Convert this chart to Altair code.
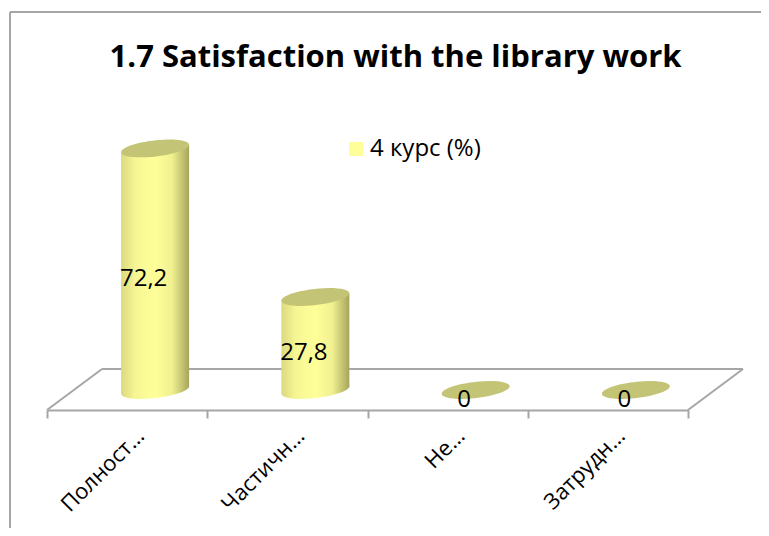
import altair as alt
import pandas as pd

categories = ["Полност…", "Частичн…", "Не…", "Затрудн…"]
values = [72.2, 27.8, 0, 0]
value_labels = ["72,2", "27,8", "0", "0"]
series_name = "4 курс (%)"
title_text = "1.7 Satisfaction with the library work"

FONT = "Open Sans"
GRAY = "#a6a6a6"
ELLIPSE = "M-1,0.1 A1,0.235 -6.5 1 1 1,-0.1 A1,0.235 -6.5 1 1 -1,0.1 Z"

df = pd.DataFrame({"cat": categories, "value": values, "label": value_labels, "series": series_name})

stops_left = [
    alt.GradientStop(color="#d9d97f", offset=0),
    alt.GradientStop(color="#f5f594", offset=0.4),
    alt.GradientStop(color="#ffff99", offset=1),
]
stops_right = [
    alt.GradientStop(color="#ffff99", offset=0),
    alt.GradientStop(color="#f0f090", offset=0.5),
    alt.GradientStop(color="#a5a55c", offset=1),
]
grad_left = alt.Gradient(gradient="linear", x1=0, x2=1, y1=0, y2=0, stops=stops_left)
grad_right = alt.Gradient(gradient="linear", x1=0, x2=1, y1=0, y2=0, stops=stops_right)
grad = alt.Gradient(gradient="linear", x1=0, x2=1, y1=0, y2=0,
                    stops=[
                        alt.GradientStop(color="#d9d97f", offset=0),
                        alt.GradientStop(color="#f5f594", offset=0.2),
                        alt.GradientStop(color="#ffff99", offset=0.5),
                        alt.GradientStop(color="#f0f090", offset=0.75),
                        alt.GradientStop(color="#a5a55c", offset=1),
                    ])

x = alt.X("cat:N", sort=categories, title=None,
          scale=alt.Scale(range=[37, 678], paddingInner=0, paddingOuter=0),
          axis=alt.Axis(domainColor=GRAY, domainWidth=2, tickColor=GRAY, tickWidth=2, tickSize=8,
                        tickBand="extent", grid=False, labelAngle=315, labelAlign="right",
                        labelBaseline="middle", labelFont=FONT, labelFontSize=22, labelColor="#000000",
                        labelPadding=14, labelOffset=13, labelOverlap=False, labelLimit=0))
y_scale = alt.Scale(domain=[-5.98, 113], nice=False, zero=False)
y = alt.Y("value:Q", axis=None, stack=None, scale=y_scale)
base = alt.Chart(df).encode(x=x)

def frame(**kw):
    return alt.Chart(df.head(1)).mark_rule(color=GRAY, strokeWidth=2).encode(**kw)

frame_left = frame(x=alt.value(0), y=alt.value(0), y2=alt.value(516))
frame_top = frame(x=alt.value(0), x2=alt.value(751), y=alt.value(0))
floor_back = frame(x=alt.value(92), x2=alt.value(733), y=alt.value(357), y2=alt.value(357))
floor_left = frame(x=alt.value(37), x2=alt.value(92), y=alt.value(398), y2=alt.value(357))
floor_right = frame(x=alt.value(678), x2=alt.value(733), y=alt.value(398), y2=alt.value(357))

raised = base.transform_filter("datum.value > 0").transform_calculate(zero="0")

legend_bars = raised.mark_bar(size=60, xOffset=28).encode(
    y=y,
    color=alt.Color("series:N", scale=alt.Scale(range=["#ffff99"]),
                    legend=alt.Legend(title=None, orient="none", legendX=334, legendY=125,
                                      symbolType="square", symbolSize=196, symbolStrokeWidth=0,
                                      labelFont=FONT, labelFontSize=24, labelColor="#000000",
                                      labelOffset=2)),
)
bottoms = raised.mark_point(filled=True, opacity=1, shape=ELLIPSE, size=4624, fill=grad, stroke=None, xOffset=28).encode(
    y=alt.Y("zero:Q", axis=None, scale=y_scale)
)
bars_left = raised.mark_bar(size=34, xOffset=11, yOffset=3.4, y2Offset=3.4, fill=grad_left).encode(y=y, y2="zero:Q")
bars_right = raised.mark_bar(size=34, xOffset=45, yOffset=-3.4, y2Offset=-3.4, fill=grad_right).encode(y=y, y2="zero:Q")
tops = base.mark_point(filled=True, opacity=1, shape=ELLIPSE, size=4624, fill="#c4c477", stroke=None, xOffset=28).encode(y=y)
texts = base.mark_text(font=FONT, fontSize=24, color="#000000", xOffset=16.5, yOffset=10).encode(
    y=alt.Y("mid:Q", axis=None, scale=y_scale),
    text="label:N",
).transform_calculate(mid="datum.value / 2")

chart = alt.layer(frame_left, frame_top, floor_back, floor_left, floor_right, legend_bars, bottoms, bars_left, bars_right, tops, texts).properties(
    width=751, height=398,
    autosize=alt.AutoSizeParams(type="none"),
    padding={"left": 2, "top": 4, "right": 0, "bottom": 118},
    background="white",
    title=alt.TitleParams(title_text, font=FONT, fontSize=31, fontWeight="bold", color="#000000",
                          anchor="middle", frame="group", offset=-63, dx=10),
).configure_view(stroke=None)

chart.save("out.html", embed_options={"renderer": "svg", "actions": False})
